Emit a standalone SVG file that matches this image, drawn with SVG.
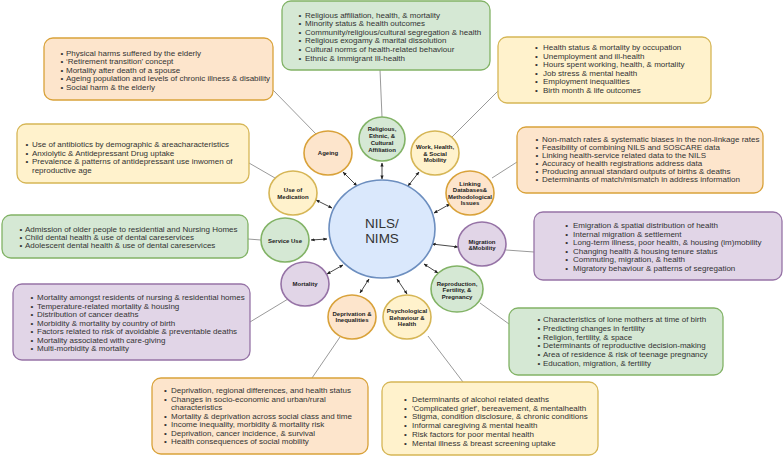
<svg xmlns="http://www.w3.org/2000/svg" width="783" height="456" viewBox="0 0 783 456">
<style>
.g{fill:#d5e8d4;stroke:#82b366}
.o{fill:#fde5cc;stroke:#d9a23a}
.y{fill:#fff2cc;stroke:#d6b656}
.p{fill:#e1d5e7;stroke:#9673a6}
.b{fill:#dae8fc;stroke:#6c8ebf;stroke-width:1.6}
rect{stroke-width:1.3}
ellipse{stroke-width:1.6}
.t{font-family:"Liberation Sans",Arial,sans-serif;font-size:8px;fill:#333}
.c{font-family:"Liberation Sans",Arial,sans-serif;font-size:6px;font-weight:bold;fill:#222;text-anchor:middle}
.m{font-family:"Liberation Sans",Arial,sans-serif;font-size:13.5px;fill:#333;text-anchor:middle}
.ln{stroke:#9a9a9a;stroke-width:1;fill:none}
.ar{stroke:#333;stroke-width:0.9;fill:none;marker-start:url(#ah);marker-end:url(#ah)}
</style>
<defs>
<marker id="ah" viewBox="0 0 10 10" refX="9" refY="5" markerWidth="4" markerHeight="4" orient="auto-start-reverse" markerUnits="userSpaceOnUse">
<path d="M0,1 L10,5 L0,9 Z" fill="#222"/>
</marker>
</defs>
<rect width="783" height="456" fill="#ffffff"/>

<g id="connectors">
<line class="ln" x1="380" y1="70" x2="382" y2="117"/>
<line class="ln" x1="273" y1="90" x2="316" y2="134"/>
<line class="ln" x1="452" y1="137" x2="499" y2="90"/>
<line class="ln" x1="249" y1="163" x2="275" y2="178"/>
<line class="ln" x1="492" y1="178" x2="517" y2="162"/>
<line class="ln" x1="248" y1="239" x2="261" y2="240"/>
<line class="ln" x1="506" y1="250" x2="534" y2="252"/>
<line class="ln" x1="250" y1="322" x2="288" y2="299"/>
<line class="ln" x1="480" y1="303" x2="509" y2="324"/>
<line class="ln" x1="340" y1="337" x2="312" y2="378"/>
<line class="ln" x1="428" y1="336" x2="463" y2="382"/>
<line class="ar" x1="357" y1="186" x2="343" y2="172"/>
<line class="ar" x1="382" y1="179" x2="382" y2="163"/>
<line class="ar" x1="408" y1="186" x2="419" y2="172"/>
<line class="ar" x1="434" y1="213" x2="450" y2="204"/>
<line class="ar" x1="332" y1="208" x2="316" y2="200"/>
<line class="ar" x1="327" y1="239" x2="311" y2="240"/>
<line class="ar" x1="432" y1="244" x2="458" y2="247"/>
<line class="ar" x1="343" y1="265" x2="327" y2="274"/>
<line class="ar" x1="424" y1="264" x2="438" y2="273"/>
<line class="ar" x1="369" y1="279" x2="360" y2="293"/>
<line class="ar" x1="397" y1="279" x2="407" y2="294"/>
</g>

<g id="center">
<ellipse class="b" cx="382" cy="229" rx="53" ry="49"/>
<text class="m" x="382" y="227.5">NILS/</text>
<text class="m" x="382" y="242.5">NIMS</text>
</g>

<g id="ageing">
<ellipse class="o" cx="328" cy="153" rx="24" ry="22"/>
<text class="c" x="328" y="155">Ageing</text>
</g>
<g id="religious">
<ellipse class="g" cx="382" cy="139" rx="23" ry="22"/>
<text class="c" x="382" y="131">Religious,</text>
<text class="c" x="382" y="138">Ethnic, &amp;</text>
<text class="c" x="382" y="145">Cultural</text>
<text class="c" x="382" y="151.5">Affiliation</text>
</g>
<g id="work">
<ellipse class="y" cx="435" cy="153" rx="24" ry="22"/>
<text class="c" x="435" y="149">Work, Health,</text>
<text class="c" x="435" y="155.5">&amp; Social</text>
<text class="c" x="435" y="162">Mobility</text>
</g>
<g id="linking">
<ellipse class="o" cx="470" cy="193" rx="24" ry="22"/>
<text class="c" x="470" y="185.5">Linking</text>
<text class="c" x="470" y="192">Databases&amp;</text>
<text class="c" x="470" y="198.5">Methodological</text>
<text class="c" x="470" y="205">Issues</text>
</g>
<g id="medication">
<ellipse class="y" cx="293" cy="193" rx="24" ry="22"/>
<text class="c" x="293" y="192">Use of</text>
<text class="c" x="293" y="199">Medication</text>
</g>
<g id="service">
<ellipse class="g" cx="285" cy="240" rx="24" ry="22"/>
<text class="c" x="285" y="243">Service Use</text>
</g>
<g id="migration">
<ellipse class="p" cx="482" cy="244" rx="24" ry="22"/>
<text class="c" x="482" y="244">Migration</text>
<text class="c" x="482" y="250">&amp;Mobility</text>
</g>
<g id="mortality">
<ellipse class="p" cx="305" cy="284" rx="24" ry="22"/>
<text class="c" x="305" y="286">Mortality</text>
</g>
<g id="reproduction">
<ellipse class="g" cx="457" cy="289" rx="26" ry="23"/>
<text class="c" x="457" y="285.5">Reproduction,</text>
<text class="c" x="457" y="292">Fertility, &amp;</text>
<text class="c" x="457" y="298.5">Pregnancy</text>
</g>
<g id="deprivation">
<ellipse class="o" cx="352" cy="317" rx="24" ry="22"/>
<text class="c" x="352" y="315.5">Deprivation &amp;</text>
<text class="c" x="352" y="322">Inequalities</text>
</g>
<g id="psychological">
<ellipse class="y" cx="407" cy="317" rx="24" ry="22"/>
<text class="c" x="407" y="313">Psychological</text>
<text class="c" x="407" y="319.5">Behaviour &amp;</text>
<text class="c" x="407" y="325.5">Health</text>
</g>

<g id="box-religious">
<rect class="g" x="282" y="1" width="208" height="69" rx="9"/>
<text class="t" y="17.5"><tspan x="298.6">•</tspan><tspan x="305">Religious affiliation, health, &amp; mortality</tspan></text>
<text class="t" y="26.1"><tspan x="298.6">•</tspan><tspan x="305">Minority status &amp; health outcomes</tspan></text>
<text class="t" y="34.7"><tspan x="298.6">•</tspan><tspan x="305">Community/religious/cultural segregation &amp; health</tspan></text>
<text class="t" y="43.3"><tspan x="298.6">•</tspan><tspan x="305">Religious exogamy &amp; marital dissolution</tspan></text>
<text class="t" y="51.9"><tspan x="298.6">•</tspan><tspan x="305">Cultural norms of health-related behaviour</tspan></text>
<text class="t" y="60.5"><tspan x="298.6">•</tspan><tspan x="305">Ethnic &amp; Immigrant Ill-health</tspan></text>
</g>
<g id="box-ageing">
<rect class="o" x="44" y="38" width="229" height="62" rx="9"/>
<text class="t" y="55.5"><tspan x="60.6">•</tspan><tspan x="66">Physical harms suffered by the elderly</tspan></text>
<text class="t" y="64.1"><tspan x="60.6">•</tspan><tspan x="66">‘Retirement transition’ concept</tspan></text>
<text class="t" y="72.7"><tspan x="60.6">•</tspan><tspan x="66">Mortality after death of a spouse</tspan></text>
<text class="t" y="81.3"><tspan x="60.6">•</tspan><tspan x="66">Ageing population and levels of chronic illness &amp; disability</tspan></text>
<text class="t" y="89.9"><tspan x="60.6">•</tspan><tspan x="66">Social harm &amp; the elderly</tspan></text>
</g>
<g id="box-work">
<rect class="y" x="498" y="37" width="213" height="66" rx="9"/>
<text class="t" y="50"><tspan x="535">•</tspan><tspan x="543">Health status &amp; mortality by occupation</tspan></text>
<text class="t" y="58.6"><tspan x="535">•</tspan><tspan x="543">Unemployment and ill-health</tspan></text>
<text class="t" y="67.2"><tspan x="535">•</tspan><tspan x="543">Hours spent working, health, &amp; mortality</tspan></text>
<text class="t" y="75.8"><tspan x="535">•</tspan><tspan x="543">Job stress &amp; mental health</tspan></text>
<text class="t" y="84.4"><tspan x="535">•</tspan><tspan x="543">Employment inequalities</tspan></text>
<text class="t" y="93"><tspan x="535">•</tspan><tspan x="543">Birth month &amp; life outcomes</tspan></text>
</g>
<g id="box-medication">
<rect class="y" x="17" y="124" width="232" height="59" rx="9"/>
<text class="t" y="147"><tspan x="25.6">•</tspan><tspan x="32">Use of antibiotics by demographic &amp; areacharacteristics</tspan></text>
<text class="t" y="155.6"><tspan x="25.6">•</tspan><tspan x="32">Anxiolytic &amp; Antidepressant Drug uptake</tspan></text>
<text class="t" y="164.2"><tspan x="25.6">•</tspan><tspan x="32">Prevalence &amp; patterns of antidepressant use inwomen of</tspan></text>
<text class="t" y="172.8" x="32">reproductive age</text>
</g>
<g id="box-linking">
<rect class="o" x="517" y="127" width="246" height="66" rx="9"/>
<text class="t" y="142"><tspan x="535.6">•</tspan><tspan x="542">Non-match rates &amp; systematic biases in the non-linkage rates</tspan></text>
<text class="t" y="150"><tspan x="535.6">•</tspan><tspan x="542">Feasibility of combining NILS and SOSCARE data</tspan></text>
<text class="t" y="158"><tspan x="535.6">•</tspan><tspan x="542">Linking health-service related data to the NILS</tspan></text>
<text class="t" y="166"><tspan x="535.6">•</tspan><tspan x="542">Accuracy of health registrations address data</tspan></text>
<text class="t" y="174"><tspan x="535.6">•</tspan><tspan x="542">Producing annual standard outputs of births &amp; deaths</tspan></text>
<text class="t" y="182"><tspan x="535.6">•</tspan><tspan x="542">Determinants of match/mismatch in address information</tspan></text>
</g>
<g id="box-service">
<rect class="g" x="2" y="215" width="246" height="43" rx="9"/>
<text class="t" y="232"><tspan x="19.6">•</tspan><tspan x="25">Admission of older people to residential and Nursing Homes</tspan></text>
<text class="t" y="240"><tspan x="19.6">•</tspan><tspan x="25">Child dental health &amp; use of dental careservices</tspan></text>
<text class="t" y="248"><tspan x="19.6">•</tspan><tspan x="25">Adolescent dental health &amp; use of dental careservices</tspan></text>
</g>
<g id="box-migration">
<rect class="p" x="534" y="212" width="248" height="68" rx="9"/>
<text class="t" y="228"><tspan x="565.3">•</tspan><tspan x="573">Emigration &amp; spatial distribution of health</tspan></text>
<text class="t" y="236.6"><tspan x="565.3">•</tspan><tspan x="573">Internal migration &amp; settlement</tspan></text>
<text class="t" y="245.2"><tspan x="565.3">•</tspan><tspan x="573">Long-term illness, poor health, &amp; housing (im)mobility</tspan></text>
<text class="t" y="253.8"><tspan x="565.3">•</tspan><tspan x="573">Changing health &amp; housing tenure status</tspan></text>
<text class="t" y="262.4"><tspan x="565.3">•</tspan><tspan x="573">Commuting, migration, &amp; health</tspan></text>
<text class="t" y="271"><tspan x="565.3">•</tspan><tspan x="573">Migratory behaviour &amp; patterns of segregation</tspan></text>
</g>
<g id="box-mortality">
<rect class="p" x="13" y="284" width="237" height="76" rx="9"/>
<text class="t" y="300"><tspan x="30.6">•</tspan><tspan x="37">Mortality amongst residents of nursing &amp; residential homes</tspan></text>
<text class="t" y="308.5"><tspan x="30.6">•</tspan><tspan x="37">Temperature-related mortality &amp; housing</tspan></text>
<text class="t" y="317"><tspan x="30.6">•</tspan><tspan x="37">Distribution of cancer deaths</tspan></text>
<text class="t" y="325.5"><tspan x="30.6">•</tspan><tspan x="37">Morbidity &amp; mortality by country of birth</tspan></text>
<text class="t" y="334"><tspan x="30.6">•</tspan><tspan x="37">Factors related to risk of avoidable &amp; preventable deaths</tspan></text>
<text class="t" y="342.5"><tspan x="30.6">•</tspan><tspan x="37">Mortality associated with care-giving</tspan></text>
<text class="t" y="351"><tspan x="30.6">•</tspan><tspan x="37">Multi-morbidity &amp; mortality</tspan></text>
</g>
<g id="box-reproduction">
<rect class="g" x="509" y="308" width="214" height="67" rx="9"/>
<text class="t" y="322"><tspan x="537.6">•</tspan><tspan x="543">Characteristics of lone mothers at time of birth</tspan></text>
<text class="t" y="330.8"><tspan x="537.6">•</tspan><tspan x="543">Predicting changes in fertility</tspan></text>
<text class="t" y="339.6"><tspan x="537.6">•</tspan><tspan x="543">Religion, fertility, &amp; space</tspan></text>
<text class="t" y="348.4"><tspan x="537.6">•</tspan><tspan x="543">Determinants of reproductive decision-making</tspan></text>
<text class="t" y="357.2"><tspan x="537.6">•</tspan><tspan x="543">Area of residence &amp; risk of teenage pregnancy</tspan></text>
<text class="t" y="366"><tspan x="537.6">•</tspan><tspan x="543">Education, migration, &amp; fertility</tspan></text>
</g>
<g id="box-deprivation">
<rect class="o" x="152" y="378" width="216" height="76" rx="9"/>
<text class="t" y="393"><tspan x="164">•</tspan><tspan x="171">Deprivation, regional differences, and health status</tspan></text>
<text class="t" y="401.5"><tspan x="164">•</tspan><tspan x="171">Changes in socio-economic and urban/rural</tspan></text>
<text class="t" y="410" x="171">characteristics</text>
<text class="t" y="418.5"><tspan x="164">•</tspan><tspan x="171">Mortality &amp; deprivation across social class and time</tspan></text>
<text class="t" y="427"><tspan x="164">•</tspan><tspan x="171">Income inequality, morbidity &amp; mortality risk</tspan></text>
<text class="t" y="435.5"><tspan x="164">•</tspan><tspan x="171">Deprivation, cancer incidence, &amp; survival</tspan></text>
<text class="t" y="444"><tspan x="164">•</tspan><tspan x="171">Health consequences of social mobility</tspan></text>
</g>
<g id="box-psychological">
<rect class="y" x="382" y="382" width="216" height="73" rx="9"/>
<text class="t" y="402"><tspan x="404">•</tspan><tspan x="412">Determinants of alcohol related deaths</tspan></text>
<text class="t" y="410.7"><tspan x="404">•</tspan><tspan x="412">'Complicated grief', bereavement, &amp; mentalhealth</tspan></text>
<text class="t" y="419.4"><tspan x="404">•</tspan><tspan x="412">Stigma, condition disclosure, &amp; chronic conditions</tspan></text>
<text class="t" y="428.1"><tspan x="404">•</tspan><tspan x="412">Informal caregiving &amp; mental health</tspan></text>
<text class="t" y="436.8"><tspan x="404">•</tspan><tspan x="412">Risk factors for poor mental health</tspan></text>
<text class="t" y="445.5"><tspan x="404">•</tspan><tspan x="412">Mental illness &amp; breast screening uptake</tspan></text>
</g>
</svg>
